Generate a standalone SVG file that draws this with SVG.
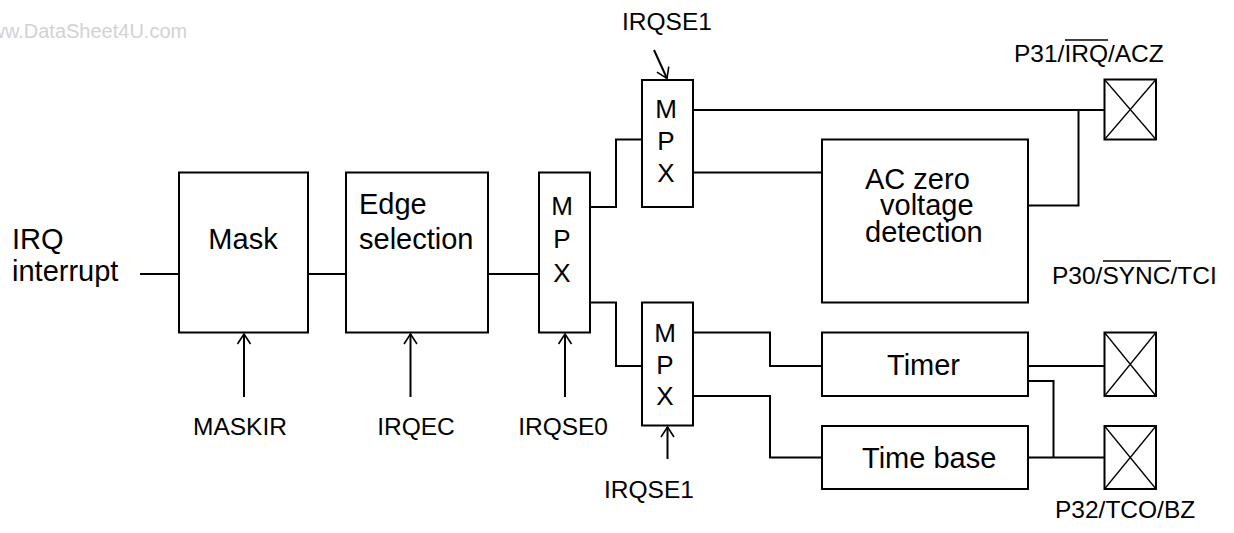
<svg xmlns="http://www.w3.org/2000/svg" width="1234" height="533" viewBox="0 0 1234 533">
<defs>
<style>
.box{fill:#fff;stroke:#000;stroke-width:2}
.ln{fill:none;stroke:#000;stroke-width:2}
.pin{fill:#fff;stroke:#000;stroke-width:2}
.px{stroke:#000;stroke-width:1.3}
.t{font-family:"Liberation Sans",Arial,sans-serif;font-size:29px;fill:#000}
.m{font-family:"Liberation Sans",Arial,sans-serif;font-size:26px;fill:#000;text-anchor:middle}
.l{font-family:"Liberation Sans",Arial,sans-serif;font-size:24.5px;fill:#000}
.wm{font-family:"Liberation Sans",Arial,sans-serif;font-size:20px;fill:#d2d2d2}
</style>
<marker id="ah" viewBox="-12 -8 14 16" markerWidth="14" markerHeight="16" refX="0" refY="0" orient="auto" markerUnits="userSpaceOnUse">
<path d="M-10,-6.5 L0,0 L-10,6.5" fill="none" stroke="#000" stroke-width="1.6"/>
</marker>
</defs>
<rect width="1234" height="533" fill="#fff"/>
<text class="wm" x="-24" y="38">www.DataSheet4U.com</text>

<g id="connectors">
<path class="ln" d="M140,274 H179"/>
<path class="ln" d="M308,274 H346"/>
<path class="ln" d="M488,274 H539"/>
<path class="ln" d="M590,207 H616 V139.5 H642"/>
<path class="ln" d="M590,302.5 H616 V366 H642"/>
<path class="ln" d="M693,110 H1104"/>
<path class="ln" d="M1078.5,110 V205.5 H1028"/>
<path class="ln" d="M693,172.5 H822"/>
<path class="ln" d="M693,332.5 H770 V366 H822"/>
<path class="ln" d="M693,396 H770 V457.5 H822"/>
<path class="ln" d="M1028,366 H1104"/>
<path class="ln" d="M1028,381 H1053.5 V457.5"/>
<path class="ln" d="M1028,457.5 H1104"/>
<path class="ln" d="M244,397 V334" marker-end="url(#ah)"/>
<path class="ln" d="M410.5,397 V334" marker-end="url(#ah)"/>
<path class="ln" d="M565,397 V334" marker-end="url(#ah)"/>
<path class="ln" d="M667.5,459 V427" marker-end="url(#ah)"/>
<path class="ln" d="M654,50 L667,78.5" marker-end="url(#ah)"/>
</g>

<g id="irq-in">
<text class="t" x="12" y="249">IRQ</text>
<text class="t" x="12" y="281">interrupt</text>
</g>

<g id="mask">
<rect class="box" x="179" y="172.5" width="129" height="160"/>
<text class="t" x="243" y="249" text-anchor="middle">Mask</text>
</g>

<g id="edge">
<rect class="box" x="346" y="172.5" width="142" height="160"/>
<text class="t" x="359" y="214">Edge</text>
<text class="t" x="359" y="249">selection</text>
</g>

<g id="mpx0">
<rect class="box" x="539" y="172.5" width="51" height="160"/>
<text class="m" x="562" y="215">M</text>
<text class="m" x="562" y="248">P</text>
<text class="m" x="562" y="281.5">X</text>
</g>

<g id="mpx1">
<rect class="box" x="642" y="80" width="51" height="127"/>
<text class="m" x="666" y="117.5">M</text>
<text class="m" x="666" y="149.5">P</text>
<text class="m" x="666" y="181.5">X</text>
</g>

<g id="mpx2">
<rect class="box" x="642" y="302.5" width="51" height="123"/>
<text class="m" x="665" y="342">M</text>
<text class="m" x="665" y="374">P</text>
<text class="m" x="665" y="405">X</text>
</g>

<g id="acz">
<rect class="box" x="822" y="139.5" width="206" height="163"/>
<text class="t" x="865" y="188.5">AC zero</text>
<text class="t" x="880" y="215">voltage</text>
<text class="t" x="865" y="241.5">detection</text>
</g>

<g id="timer">
<rect class="box" x="822" y="332.5" width="206" height="63.5"/>
<text class="t" x="887" y="375">Timer</text>
</g>

<g id="timebase">
<rect class="box" x="822" y="426" width="206" height="63"/>
<text class="t" x="862" y="468">Time base</text>
</g>

<g id="pin-p31">
<rect class="pin" x="1104.5" y="79.5" width="51.5" height="60"/>
<path class="px" d="M1104.5,79.5 L1156,139.5 M1156,79.5 L1104.5,139.5"/>
</g>

<g id="pin-p30">
<rect class="pin" x="1104.5" y="332.5" width="51.5" height="63.5"/>
<path class="px" d="M1104.5,332.5 L1156,396 M1156,332.5 L1104.5,396"/>
</g>

<g id="pin-p32">
<rect class="pin" x="1104.5" y="426" width="51.5" height="63"/>
<path class="px" d="M1104.5,426 L1156,489 M1156,426 L1104.5,489"/>
</g>

<g id="labels">
<text class="l" x="622" y="30">IRQSE1</text>
<text class="l" x="240" y="435" text-anchor="middle">MASKIR</text>
<text class="l" x="416" y="435" text-anchor="middle">IRQEC</text>
<text class="l" x="608" y="435" text-anchor="end">IRQSE0</text>
<text class="l" x="649" y="498" text-anchor="middle">IRQSE1</text>
<text class="l" x="1014" y="62">P31/IRQ/ACZ</text>
<line x1="1065" y1="40" x2="1108" y2="40" stroke="#000" stroke-width="1.6"/>
<text class="l" x="1052" y="284">P30/SYNC/TCI</text>
<line x1="1103" y1="261" x2="1171" y2="261" stroke="#000" stroke-width="1.6"/>
<text class="l" x="1055" y="518">P32/TCO/BZ</text>
</g>
</svg>
